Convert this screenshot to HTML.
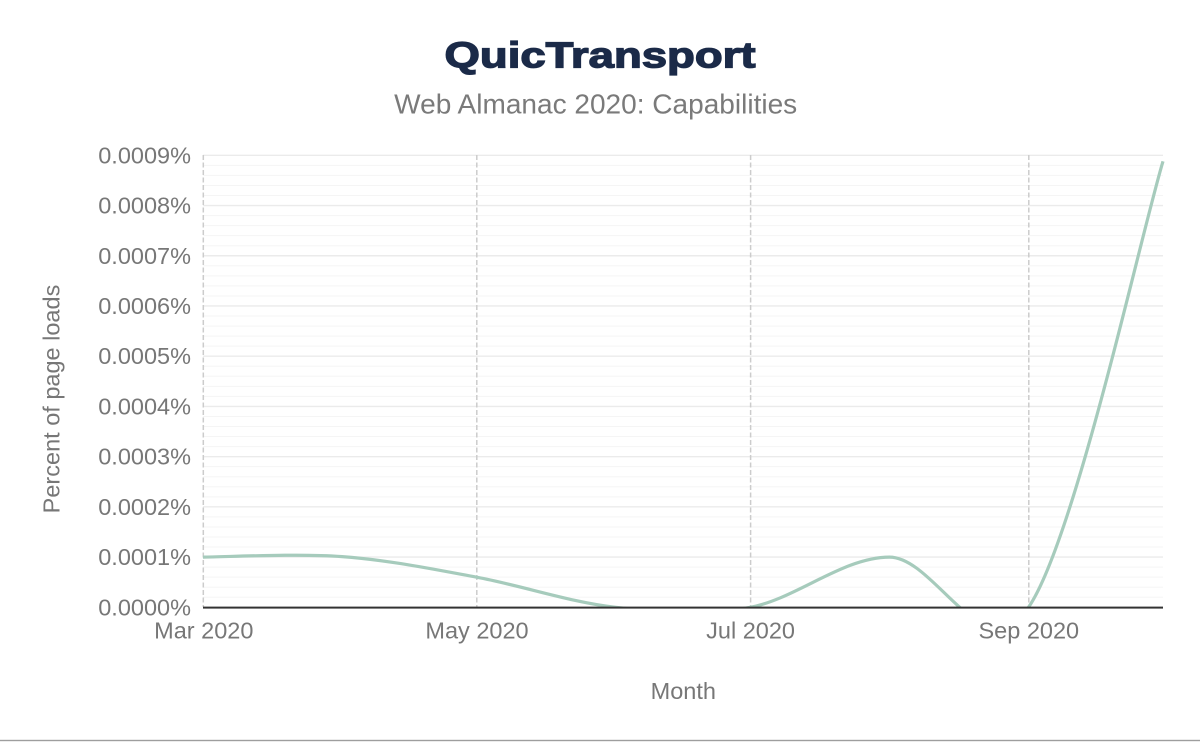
<!DOCTYPE html>
<html>
<head>
<meta charset="utf-8">
<style>
  html, body { margin: 0; padding: 0; background: #ffffff; }
  body { width: 1200px; height: 742px; overflow: hidden; }
  svg { display: block; }
  text { font-family: "Liberation Sans", Arial, Helvetica, sans-serif; }
</style>
</head>
<body>
<svg width="1200" height="742" viewBox="0 0 1200 742" xmlns="http://www.w3.org/2000/svg">
  <rect x="0" y="0" width="1200" height="742" fill="#ffffff"/>

  <!-- Title -->
  <text x="600" y="67.7" text-anchor="middle" font-size="36" font-weight="bold" fill="#1b2a48" stroke="#1b2a48" stroke-width="1.3" textLength="311" lengthAdjust="spacingAndGlyphs">QuicTransport</text>
  <!-- Subtitle -->
  <text x="595.7" y="113.3" text-anchor="middle" font-size="28" fill="#7a7a7a" textLength="403" lengthAdjust="spacingAndGlyphs">Web Almanac 2020: Capabilities</text>

  <!-- Minor gridlines -->
  <g stroke="#f5f5f5" stroke-width="1">
    <line x1="203" x2="1163" y1="597.26" y2="597.26"/>
    <line x1="203" x2="1163" y1="587.21" y2="587.21"/>
    <line x1="203" x2="1163" y1="577.17" y2="577.17"/>
    <line x1="203" x2="1163" y1="567.12" y2="567.12"/>
    <line x1="203" x2="1163" y1="547.04" y2="547.04"/>
    <line x1="203" x2="1163" y1="536.99" y2="536.99"/>
    <line x1="203" x2="1163" y1="526.95" y2="526.95"/>
    <line x1="203" x2="1163" y1="516.90" y2="516.90"/>
    <line x1="203" x2="1163" y1="496.82" y2="496.82"/>
    <line x1="203" x2="1163" y1="486.77" y2="486.77"/>
    <line x1="203" x2="1163" y1="476.73" y2="476.73"/>
    <line x1="203" x2="1163" y1="466.68" y2="466.68"/>
    <line x1="203" x2="1163" y1="446.60" y2="446.60"/>
    <line x1="203" x2="1163" y1="436.55" y2="436.55"/>
    <line x1="203" x2="1163" y1="426.51" y2="426.51"/>
    <line x1="203" x2="1163" y1="416.46" y2="416.46"/>
    <line x1="203" x2="1163" y1="396.38" y2="396.38"/>
    <line x1="203" x2="1163" y1="386.33" y2="386.33"/>
    <line x1="203" x2="1163" y1="376.29" y2="376.29"/>
    <line x1="203" x2="1163" y1="366.24" y2="366.24"/>
    <line x1="203" x2="1163" y1="346.16" y2="346.16"/>
    <line x1="203" x2="1163" y1="336.11" y2="336.11"/>
    <line x1="203" x2="1163" y1="326.07" y2="326.07"/>
    <line x1="203" x2="1163" y1="316.02" y2="316.02"/>
    <line x1="203" x2="1163" y1="295.94" y2="295.94"/>
    <line x1="203" x2="1163" y1="285.89" y2="285.89"/>
    <line x1="203" x2="1163" y1="275.85" y2="275.85"/>
    <line x1="203" x2="1163" y1="265.80" y2="265.80"/>
    <line x1="203" x2="1163" y1="245.72" y2="245.72"/>
    <line x1="203" x2="1163" y1="235.67" y2="235.67"/>
    <line x1="203" x2="1163" y1="225.63" y2="225.63"/>
    <line x1="203" x2="1163" y1="215.58" y2="215.58"/>
    <line x1="203" x2="1163" y1="195.50" y2="195.50"/>
    <line x1="203" x2="1163" y1="185.45" y2="185.45"/>
    <line x1="203" x2="1163" y1="175.41" y2="175.41"/>
    <line x1="203" x2="1163" y1="165.36" y2="165.36"/>
  </g>
  <!-- Major gridlines -->
  <g stroke="#ebebeb" stroke-width="1.4">
    <line x1="203" x2="1163" y1="557.08" y2="557.08"/>
    <line x1="203" x2="1163" y1="506.86" y2="506.86"/>
    <line x1="203" x2="1163" y1="456.64" y2="456.64"/>
    <line x1="203" x2="1163" y1="406.42" y2="406.42"/>
    <line x1="203" x2="1163" y1="356.20" y2="356.20"/>
    <line x1="203" x2="1163" y1="305.98" y2="305.98"/>
    <line x1="203" x2="1163" y1="255.76" y2="255.76"/>
    <line x1="203" x2="1163" y1="205.54" y2="205.54"/>
    <line x1="203" x2="1163" y1="155.32" y2="155.32"/>
  </g>

  <!-- Vertical dashed gridlines -->
  <g stroke="#cccccc" stroke-width="1.5" stroke-dasharray="5,2.5">
    <line x1="203.3" x2="203.3" y1="155" y2="607"/>
    <line x1="476.8" x2="476.8" y1="155" y2="607"/>
    <line x1="750.6" x2="750.6" y1="155" y2="607"/>
    <line x1="1028.8" x2="1028.8" y1="155" y2="607"/>
  </g>

  <!-- Data series -->
  <defs>
    <clipPath id="plotclip">
      <rect x="201" y="140" width="964" height="467"/>
    </clipPath>
  </defs>
  <path clip-path="url(#plotclip)" fill="none" stroke="#a6cbbc" stroke-width="3.2" stroke-linejoin="round"
    d="M203,557.1
       C226.2,557.02 296.5,553.25 342.1,556.6
       C387.7,559.95 431.0,568.75 476.6,577.2
       C522.2,585.65 570.1,602.28 615.7,607.3
       C661.3,612.32 704.7,615.67 750.3,607.3
       C795.9,598.93 843.0,557.1 889.4,557.1
       C935.8,557.1 982.9,673.27 1028.5,607.3
       C1074.1,541.33 1140.6,235.63 1163,161.3"/>

  <!-- X axis line -->
  <rect x="203" y="606.6" width="960" height="2" fill="#333333"/>

  <!-- Y axis labels -->
  <g font-size="23.5" fill="#777777" text-anchor="end">
    <text x="191" y="615.3">0.0000%</text>
    <text x="191" y="565.1">0.0001%</text>
    <text x="191" y="514.9">0.0002%</text>
    <text x="191" y="464.6">0.0003%</text>
    <text x="191" y="414.4">0.0004%</text>
    <text x="191" y="364.2">0.0005%</text>
    <text x="191" y="314.0">0.0006%</text>
    <text x="191" y="263.8">0.0007%</text>
    <text x="191" y="213.5">0.0008%</text>
    <text x="191" y="163.3">0.0009%</text>
  </g>

  <!-- X axis labels -->
  <g font-size="23.5" fill="#777777" text-anchor="middle">
    <text x="203.8" y="638.5">Mar 2020</text>
    <text x="477" y="638.5">May 2020</text>
    <text x="750.6" y="638.5">Jul 2020</text>
    <text x="1028.8" y="638.5">Sep 2020</text>
  </g>

  <!-- Axis titles -->
  <text x="683.3" y="699" font-size="23.5" fill="#777777" text-anchor="middle">Month</text>
  <text transform="translate(59.5,399) rotate(-90)" x="0" y="0" font-size="23.5" fill="#777777" text-anchor="middle">Percent of page loads</text>

  <!-- Bottom border -->
  <rect x="0" y="739.8" width="1200" height="1.4" fill="#9e9e9e"/>
</svg>
</body>
</html>
